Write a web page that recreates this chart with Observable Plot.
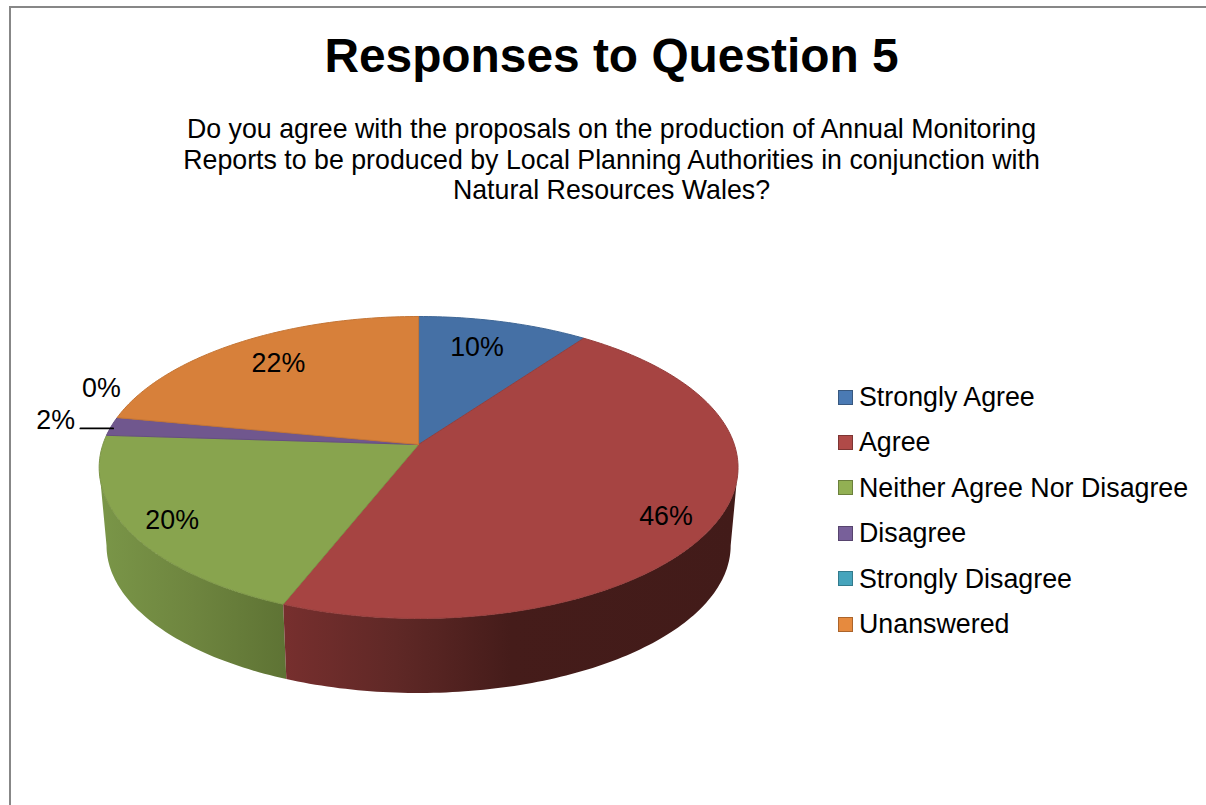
<!DOCTYPE html>
<html>
<head>
<meta charset="utf-8">
<script src="https://cdn.jsdelivr.net/npm/d3@7"></script>
<script src="https://cdn.jsdelivr.net/npm/@observablehq/plot@0.6"></script>
<style>
  html, body { margin: 0; padding: 0; background: #fff; overflow: hidden; }
  body { width: 1206px; height: 805px; position: relative; font-family: "Liberation Sans", Arial, sans-serif; color: #000; }
  #frame { position: absolute; left: 9px; top: 6px; width: 1300px; height: 900px; border: 2px solid #878787; box-sizing: border-box; }
  #title { position: absolute; left: 0; width: 1223px; top: 27px; text-align: center; font-size: 47.85px; line-height: 58px; font-weight: bold; }
  #subtitle { position: absolute; left: 0; width: 1223px; top: 114px; text-align: center; font-size: 26.75px; line-height: 30.6px; }
  #chart { position: absolute; left: 0; top: 0; }
  #legend { position: absolute; left: 838px; top: 374px; }
  .row { position: absolute; left: 0; white-space: nowrap; font-size: 26.8px; line-height: 46px; height: 46px; padding-left: 21px; }
  .row i { position: absolute; left: 0; top: 15.5px; width: 15px; height: 15px; box-sizing: border-box; border: 1.5px solid; }
</style>
</head>
<body>
<div id="frame"></div>
<div id="chart"></div>
<div id="title"></div>
<div id="subtitle"></div>
<div id="legend"></div>
<script>
// Survey results
const titleText = "Responses to Question 5";
const subtitleLines = [
  "Do you agree with the proposals on the production of Annual Monitoring",
  "Reports to be produced by Local Planning Authorities in conjunction with",
  "Natural Resources Wales?"
];
const categories = ["Strongly Agree", "Agree", "Neither Agree Nor Disagree", "Disagree", "Strongly Disagree", "Unanswered"];
const percents = [10, 46, 20, 2, 0, 22];

// Slice appearance
const faceColors = ["#4570a5", "#a64442", "#88a44e", "#70578e", "#4198af", "#d7803a"];
const edgeColors = ["#3f6796", "#963e3c", "#7c9547", "#664f81", "#3b8aa0", "#c47535"];
const swatchColors = ["#4a7ab4", "#b04a48", "#92b053", "#78609a", "#46a4bc", "#e68a3e"];
const swatchEdges = ["#38587f", "#7d3533", "#6b803c", "#57446e", "#337a8c", "#ab642b"];

// Where each percentage sits on the disc: clockwise angle from the top, fraction of the radius
const labelAngles = [15.7, 122, 236.6, 278, 290.7, 321];
const labelRadii = [0.76, 0.86, 0.867, 1.19, 1.14, 0.77];

// Disc geometry: perspective strength and how the lower rim relates to the upper one
const perspective = 0.1523;
const rimScale = 0.977;
const rimDrop = 0.532;
const leftmostAngle = 261.2;
const rightmostAngle = 98.8;

// Project a point of the tilted unit disc onto the picture plane
function project(angle, r = 1) {
  const t = angle * Math.PI / 180;
  const u = r * Math.sin(t), v = r * Math.cos(t);
  const w = 1 + perspective * v;
  return {x: u / w, y: v / w};
}
const lower = (p) => ({x: p.x * rimScale, y: p.y * rimScale - rimDrop});
function arc(a, b) {
  const n = Math.max(2, Math.ceil(Math.abs(b - a)));
  return d3.range(n + 1).map((i) => project(a + (b - a) * i / n));
}

// Cumulative slice boundaries in degrees, clockwise from the top
let running = 0;
const slices = categories.map((name, i) => {
  const start = running * 3.6;
  running += percents[i];
  return {name, value: percents[i], start, end: running * 3.6, fill: faceColors[i], edge: edgeColors[i]};
});

// Top face of each slice, closed through the apex
const facePolygon = (s) => [project(0, 0), ...arc(s.start, s.end), project(0, 0)];
// Visible wall of a slice between two angles
function wall(a, b) {
  const rim = arc(a, b);
  return [...rim, ...rim.slice().reverse().map(lower)];
}

const redSlice = slices[1], greenSlice = slices[2];

const labels = slices.map((s, i) => ({
  ...project(labelAngles[i], labelRadii[i]),
  text: `${s.value}%`
}));
// Leader from the "2%" label to its slice
const leaderStart = project(275.8, 1.095);
const leaderEnd = project(276.4, 0.99);
const leader = [leaderStart, {x: leaderEnd.x, y: leaderStart.y}];

function gradients() {
  const defs = d3.create("svg:defs");
  const add = (id, stops) => {
    const g = defs.append("linearGradient").attr("id", id).attr("x1", 0).attr("x2", 1).attr("y1", 0).attr("y2", 0);
    stops.forEach(([o, c]) => g.append("stop").attr("offset", o).attr("stop-color", c));
  };
  add("wall-red", [[0, "#772f2e"], [0.25, "#5f2826"], [0.5, "#451c1a"], [1, "#421b19"]]);
  add("wall-green", [[0, "#7a9648"], [0.5, "#6e853f"], [1, "#5e7334"]]);
  return defs.node();
}

const chart = Plot.plot({
  width: 1206,
  height: 805,
  margin: 0,
  x: {domain: [-1, 1], range: [102.4, 733.8], axis: null},
  y: {domain: [-1, 1], range: [591.5, 296.5], axis: null},
  marks: [
    gradients,
    Plot.line(wall(greenSlice.start, leftmostAngle), {x: "x", y: "y", fill: "url(#wall-green)", stroke: "none", curve: "linear"}),
    Plot.line(wall(rightmostAngle, redSlice.end), {x: "x", y: "y", fill: "url(#wall-red)", stroke: "none", curve: "linear"}),
    ...slices.filter((s) => s.value > 0).map((s) =>
      Plot.line(facePolygon(s), {x: "x", y: "y", fill: s.fill, stroke: s.edge, strokeWidth: 1, curve: "linear"})
    ),
    Plot.line(leader, {x: "x", y: "y", stroke: "#000", strokeWidth: 1.8}),
    Plot.text(labels, {
      x: "x", y: "y", text: "text", fill: "#000", fontSize: 26.8,
      fontFamily: "Liberation Sans, Arial, sans-serif", textAnchor: "middle", lineAnchor: "middle"
    })
  ]
});
document.getElementById("chart").append(chart);

document.getElementById("title").textContent = titleText;
document.getElementById("subtitle").innerHTML = subtitleLines.join("<br>");

// Legend: one swatch and name per category
const legend = d3.select("#legend");
categories.forEach((name, i) => {
  const row = legend.append("div").attr("class", "row").style("top", `${i * 45.4}px`);
  row.append("i").style("background", swatchColors[i]).style("border-color", swatchEdges[i]);
  row.append("span").text(name);
});
</script>
</body>
</html>
